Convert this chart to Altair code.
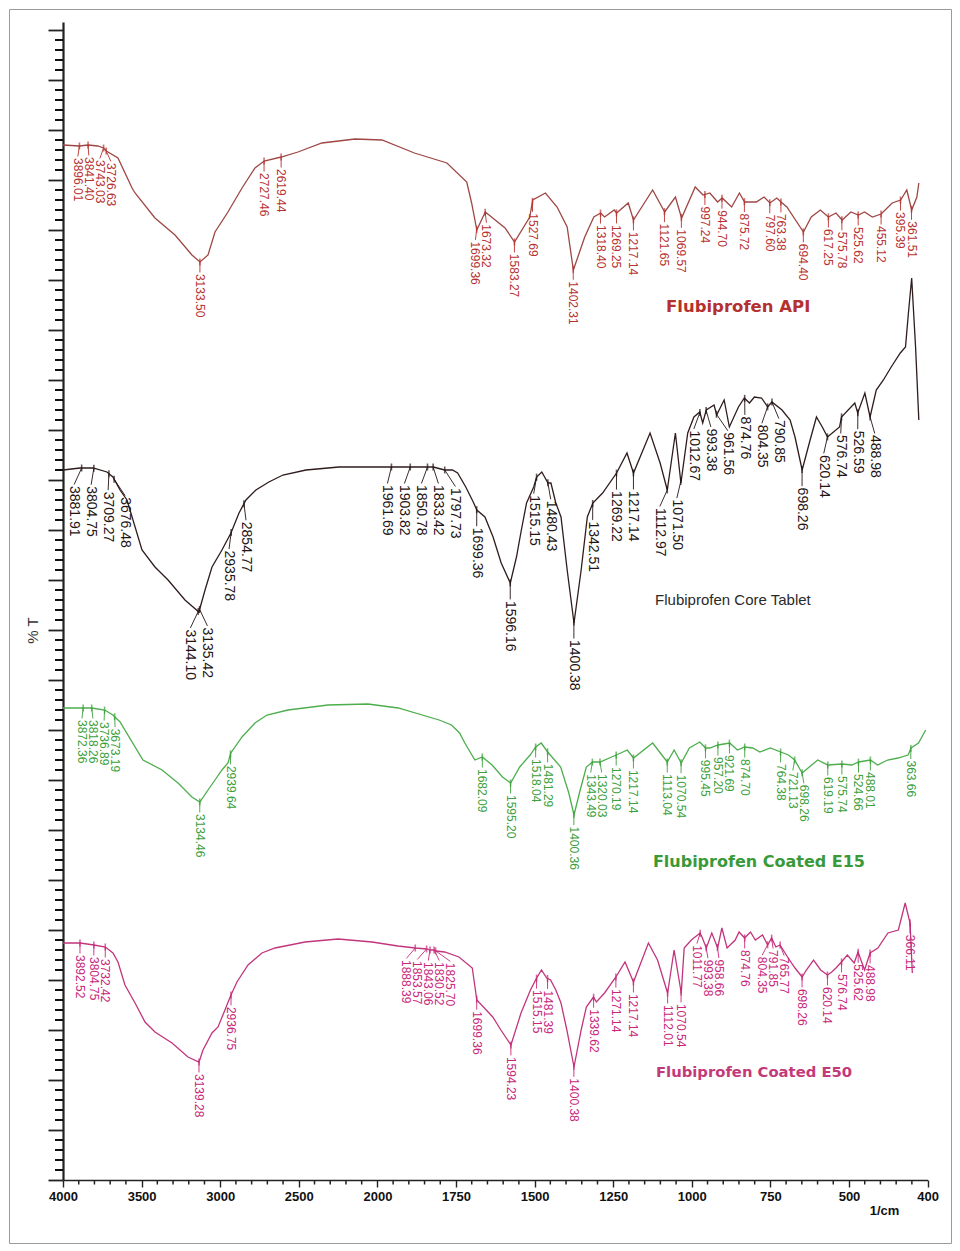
import altair as alt
import pandas as pd
import numpy as np

# ---------------- data ----------------
API_W = [4000, 3896, 3841, 3780, 3743, 3726, 3652, 3563, 3544, 3418, 3291, 3184, 3133, 3082, 3038,
         2956, 2867, 2785, 2727, 2619, 2513, 2361, 2152, 1991, 1891, 1791, 1730, 1715, 1699, 1673,
         1612, 1583, 1536, 1527, 1488, 1452, 1421, 1402, 1367, 1339, 1318, 1306, 1276, 1269, 1233,
         1217, 1158, 1121, 1088, 1069, 1027, 1003, 982, 958, 944, 915, 891, 875, 839, 815, 797, 776,
         763, 745, 694, 670, 642, 617, 594, 575, 548, 525, 506, 482, 455, 421, 395, 376, 361, 345, 339]
API_T = [102.5, 102.4, 102.5, 102.4, 102.2, 101.9, 101.2, 98.2, 97.7, 95.2, 93.5, 91.5, 90.8, 91.5, 93.8,
         95.8, 98.2, 100.2, 100.9, 101.3, 101.8, 102.7, 103.1, 103.0, 101.7, 100.7, 98.8, 96.7, 94.0, 95.8,
         94.2, 92.8, 95.3, 97.0, 97.7, 96.3, 94.3, 90.0, 93.3, 95.3, 95.7, 95.3, 96.0, 95.7, 96.7,
         95.0, 98.0, 95.8, 97.3, 95.2, 98.3, 97.5, 97.7, 96.8, 97.2, 96.3, 97.7, 96.8, 96.8, 97.3, 96.7, 97.2,
         96.8, 96.3, 93.8, 95.3, 96.0, 95.3, 95.7, 95.0, 95.8, 95.5, 95.8, 95.3, 95.6, 96.7, 97.0, 98.0, 96.0, 97.3, 98.7]
API_PEAKS = ["3896.01", "3841.40", "3743.03", "3726.63", "3133.50", "2727.46", "2619.44", "1699.36",
             "1673.32", "1583.27", "1527.69", "1402.31", "1318.40", "1269.25", "1217.14", "1121.65",
             "1069.57", "997.24", "944.70", "875.72", "797.60", "763.38", "694.40", "617.25", "575.78",
             "525.62", "455.12", "395.39", "361.51"]

CORE_W = [4000, 3892, 3810, 3722, 3684, 3639, 3595, 3500, 3418, 3335, 3228, 3140, 3101, 3057, 2994,
          2937, 2886, 2842, 2779, 2697, 2608, 2462, 2253, 2000, 1962, 1904, 1851, 1833, 1798, 1774,
          1758, 1733, 1710, 1699, 1674, 1649, 1624, 1596, 1577, 1562, 1546, 1524, 1515, 1499, 1480,
          1471, 1456, 1440, 1421, 1400, 1378, 1359, 1342, 1312, 1269, 1237, 1217, 1166, 1135, 1113,
          1088, 1071, 1050, 1031, 1013, 1004, 993, 969, 961, 938, 922, 894, 876, 860, 845, 823, 804,
          791, 760, 735, 720, 698, 676, 654, 636, 620, 583, 577, 536, 527, 505, 489, 470, 448, 424,
          396, 380, 371, 361, 349, 339]
CORE_T = [70.0, 70.2, 70.2, 69.8, 69.3, 68.0, 67.0, 62.0, 60.3, 59.0, 57.0, 55.8, 58.0, 60.3, 62.0,
          63.7, 65.7, 67.0, 68.0, 68.8, 69.5, 70.0, 70.3, 70.3, 70.3, 70.3, 70.3, 70.3, 70.0, 70.0,
          69.7, 68.3, 66.8, 66.0, 65.3, 63.3, 60.7, 58.7, 61.3, 64.0, 66.7, 68.3, 69.3, 69.8, 68.7,
          68.7, 66.7, 65.3, 60.0, 54.7, 60.0, 65.3, 66.7, 67.7, 69.7, 71.7, 69.7, 73.7, 70.7, 68.0,
          73.7, 68.7, 73.7, 75.3, 75.8, 74.7, 76.0, 76.5, 75.5, 77.0, 74.3, 76.3, 77.2, 76.7, 77.3, 77.2, 76.3,
          76.8, 76.0, 75.0, 73.3, 70.0, 72.7, 75.3, 74.3, 73.3, 74.3, 75.3, 76.7, 75.7, 77.7, 75.3, 78.0, 79.0, 80.3,
          81.7, 82.3, 85.7, 89.2, 82.3, 75.0]
CORE_PEAKS = ["3881.91", "3804.75", "3709.27", "3676.48", "3144.10", "3135.42", "2935.78", "2854.77",
              "1961.69", "1903.82", "1850.78", "1833.42", "1797.73", "1699.36", "1596.16", "1515.15",
              "1480.43", "1400.38", "1342.51", "1269.22", "1217.14", "1112.97", "1071.50", "1012.67",
              "993.38", "961.56", "874.76", "804.35", "790.85", "698.26", "620.14", "576.74", "526.59",
              "488.98"]

E15_W = [4000, 3873, 3818, 3737, 3684, 3639, 3494, 3373, 3272, 3184, 3134, 3082, 3038, 2994, 2956,
         2938, 2867, 2785, 2709, 2576, 2323, 2070, 1941, 1815, 1777, 1752, 1736, 1705, 1682, 1652,
         1620, 1595, 1567, 1535, 1518, 1501, 1481, 1441, 1416, 1400, 1381, 1362, 1343, 1320, 1270,
         1236, 1217, 1158, 1113, 1092, 1070, 1045, 1013, 995, 982, 957, 921, 897, 875, 850, 828, 796,
         764, 740, 721, 698, 676, 650, 619, 575, 545, 524, 488, 466, 435, 403, 372, 363, 340, 318]
E15_T = [46.2, 46.2, 46.2, 46.0, 45.5, 44.8, 41.0, 40.0, 38.7, 37.3, 36.8, 38.0, 39.0, 40.0, 40.7,
         41.7, 43.3, 44.7, 45.5, 46.0, 46.5, 46.6, 46.2, 45.0, 44.5, 43.7, 42.7, 41.0, 41.3, 40.5,
         39.3, 38.7, 40.3, 41.5, 42.3, 42.7, 41.8, 40.3, 37.7, 35.5, 38.0, 40.3, 40.8, 40.8, 41.5,
         42.0, 41.2, 42.7, 40.8, 42.0, 40.7, 42.2, 42.8, 42.2, 42.2, 42.5, 42.7, 42.0, 42.3, 42.2, 41.8, 42.2,
         41.8, 41.5, 41.0, 39.7, 40.3, 41.0, 40.5, 40.6, 40.5, 40.8, 41.0, 40.5, 41.0, 41.2, 41.5, 42.2, 42.7, 44.0]
E15_PEAKS = ["3872.36", "3818.26", "3736.89", "3673.19", "3134.46", "2939.64", "1682.09", "1595.20",
             "1518.04", "1481.29", "1400.36", "1343.49", "1320.03", "1270.19", "1217.14", "1113.04",
             "1070.54", "995.45", "957.20", "921.69", "874.70", "764.38", "721.13", "698.26", "619.19",
             "575.74", "524.66", "488.01", "363.66"]

E50_W = [4000, 3892, 3804, 3732, 3684, 3652, 3608, 3544, 3481, 3418, 3310, 3209, 3139, 3114, 3057,
         3019, 2975, 2937, 2899, 2829, 2741, 2658, 2468, 2259, 2044, 1942, 1888, 1853, 1843, 1830,
         1825, 1798, 1754, 1713, 1699, 1650, 1625, 1594, 1563, 1534, 1515, 1500, 1484, 1472, 1456,
         1440, 1422, 1400, 1378, 1362, 1340, 1331, 1306, 1271, 1243, 1217, 1171, 1143, 1112, 1092,
         1070, 1061, 1039, 1012, 1005, 993, 976, 958, 945, 929, 904, 892, 875, 857, 842, 820, 804,
         792, 779, 766, 741, 720, 698, 685, 663, 641, 620, 607, 594, 577, 559, 538, 526, 506, 489,
         465, 434, 402, 381, 366, 359]
E50_T = [22.7, 22.7, 22.5, 22.3, 21.7, 20.8, 18.5, 16.7, 14.8, 13.8, 12.7, 11.3, 10.8, 12.0, 13.7,
         14.3, 16.0, 17.5, 18.8, 20.5, 21.7, 22.2, 22.8, 23.1, 22.8, 22.4, 22.2, 22.1, 22.0, 22.0,
         21.9, 21.8, 21.3, 20.2, 17.0, 15.3, 14.0, 12.5, 15.7, 18.0, 19.2, 20.0, 19.2, 19.0, 18.0,
         16.7, 14.0, 10.3, 14.0, 16.3, 17.3, 16.8, 17.7, 19.3, 20.8, 18.8, 22.7, 21.0, 17.7, 22.0,
         17.7, 22.2, 23.0, 23.7, 23.2, 22.2, 23.7, 22.2, 24.2, 22.2, 23.0, 23.8, 23.2, 23.8, 23.0, 23.5, 22.5,
         23.2, 22.3, 22.5, 21.2, 20.2, 19.3, 20.0, 21.0, 20.0, 19.5, 19.8, 20.2, 20.8, 21.5, 20.7, 21.8, 20.0, 21.7,
         22.2, 23.7, 24.0, 26.7, 24.7, 19.7]
E50_PEAKS = ["3892.52", "3804.75", "3732.42", "3139.28", "2936.75", "1888.39", "1853.57", "1843.06",
             "1830.52", "1825.70", "1699.36", "1594.23", "1515.15", "1481.39", "1400.38", "1339.62",
             "1271.14", "1217.14", "1112.01", "1070.54", "1011.77", "993.38", "958.66", "874.76",
             "804.35", "791.85", "765.77", "698.26", "620.14", "576.74", "525.62", "488.98", "366.11"]

AXIS_TICKS = [4000, 3500, 3000, 2500, 2000, 1750, 1500, 1250, 1000, 750, 500, 400]

# ---------------- layout / scales ----------------
FRAME_W, FRAME_H = 942, 1234
S_DOM, S_RNG = [4000, 2000, 400], [54, 370, 890]                 # spectra
A_DOM, A_RNG = [4000, 2000, 500, 400], [54, 368.4, 840, 918.6]   # printed axis
Y_DOM, Y_RNG = [-1, 114.8], [1171, 13]

S_SCALE = alt.Scale(domain=S_DOM, range=S_RNG)
A_SCALE = alt.Scale(domain=A_DOM, range=A_RNG)
Y_SCALE = alt.Scale(domain=Y_DOM, range=Y_RNG)


def s_px(w):
    if w >= 2000:
        return S_RNG[0] + (4000 - w) / 2000 * (S_RNG[1] - S_RNG[0])
    return S_RNG[1] + (2000 - w) / 1600 * (S_RNG[2] - S_RNG[1])


def s_inv(px):
    if px <= S_RNG[1]:
        return 4000 - (px - S_RNG[0]) / (S_RNG[1] - S_RNG[0]) * 2000
    return 2000 - (px - S_RNG[1]) / (S_RNG[2] - S_RNG[1]) * 1600


def spread(px, gap):
    px = np.asarray(px, float)
    order = np.argsort(px)
    p = px[order]
    clusters = [[i] for i in range(len(p))]

    def start(cl):
        return float(np.mean(p[cl])) - (len(cl) - 1) / 2 * gap

    starts = [start(c) for c in clusters]
    changed = True
    while changed:
        changed = False
        for k in range(len(clusters) - 1):
            end_k = starts[k] + (len(clusters[k]) - 1) * gap
            if starts[k + 1] < end_k + gap - 1e-9:
                clusters[k] = clusters[k] + clusters[k + 1]
                del clusters[k + 1]
                del starts[k + 1]
                starts[k] = start(clusters[k])
                changed = True
                break
    out = np.empty(len(p))
    for cl, s in zip(clusters, starts):
        for j, idx in enumerate(cl):
            out[order[idx]] = s + j * gap
    return out


NARROW = "Liberation Sans Narrow, Arial Narrow, Liberation Sans, sans-serif"
SERIES = [
    dict(W=API_W, T=API_T, P=API_PEAKS, line="#9e4744", lab="#b8322f", fs=12, font=NARROW, gap=11,
         drop=1.2, title="Flubiprofen API", tw=895, tt=86.3, tc="#b5302e", ts=16.5, tf="DejaVu Sans", tb="bold"),
    dict(W=CORE_W, T=CORE_T, P=CORE_PEAKS, line="#2f1c1c", lab="#241414", fs=14,
         font="Liberation Sans, Arial, sans-serif", gap=17, drop=1.8, title="Flubiprofen Core Tablet",
         tw=911, tt=57.0, tc="#2a2a2a", ts=15, tf="Liberation Sans", tb="normal"),
    dict(W=E15_W, T=E15_T, P=E15_PEAKS, line="#4cae4c", lab="#3ca03c", fs=12, font=NARROW, gap=11,
         drop=1.2, title="Flubiprofen Coated E15", tw=831, tt=30.8, tc="#3a9a3a", ts=16, tf="DejaVu Sans", tb="bold"),
    dict(W=E50_W, T=E50_T, P=E50_PEAKS, line="#c2357c", lab="#c8287a", fs=12, font=NARROW, gap=11,
         drop=1.2, title="Flubiprofen Coated E50", tw=846, tt=9.7, tc="#c23a7a", ts=14.8, tf="DejaVu Sans", tb="bold"),
]


def XS(field):
    return alt.X(f"{field}:Q", scale=S_SCALE, axis=None)


def YS(field):
    return alt.Y(f"{field}:Q", scale=Y_SCALE, axis=None)


# ---------------- printed axes ----------------
Y_MAJOR = list(range(-1, 115, 5))
Y_MINOR = [v for v in range(-1, 115) if (v + 1) % 5 != 0]
X_MINOR = [v for v in (list(range(4000, 2000, -100)) + list(range(2000, 500, -50)) + list(range(500, 399, -20)))
           if v not in AXIS_TICKS]

# minor ticks: a rule from the axis line outwards, positioned by the axis scales
y_minor_df = pd.DataFrame({"v": Y_MINOR, "a": [4000] * len(Y_MINOR), "b": [4051.0] * len(Y_MINOR)})
x_minor_df = pd.DataFrame({"v": X_MINOR, "a": [-1.0] * len(X_MINOR), "b": [-1.45] * len(X_MINOR)})
A_SCALE_EXT = alt.Scale(domain=A_DOM, range=A_RNG, clamp=False)
Y_SCALE_EXT = alt.Scale(domain=Y_DOM, range=Y_RNG, clamp=False)
y_minor = alt.Chart(y_minor_df).mark_rule(color="#111111", strokeWidth=2).encode(
    x=alt.X("a:Q", scale=A_SCALE_EXT, axis=None), x2="b:Q",
    y=alt.Y("v:Q", scale=Y_SCALE_EXT, axis=None))
x_minor = alt.Chart(x_minor_df).mark_rule(color="#222222", strokeWidth=1.5).encode(
    x=alt.X("v:Q", scale=A_SCALE_EXT, axis=None),
    y=alt.Y("a:Q", scale=Y_SCALE_EXT, axis=None), y2="b:Q")

axis_df = pd.DataFrame({"w": [4000, 400], "t": [0, 0]})
axes_layer = alt.Chart(axis_df).mark_point(opacity=0).encode(
    x=alt.X("w:Q", scale=A_SCALE,
            axis=alt.Axis(values=AXIS_TICKS, orient="bottom", offset=-63, title="1/cm", format="d",
                          titleX=875, titleY=30, titleAlign="center", titleBaseline="middle",
                          titleFont="Liberation Sans", titleFontSize=13, titleFontWeight="bold",
                          titleColor="#111", labelFont="Liberation Sans", labelFontSize=13,
                          labelFontWeight="bold", labelColor="#111", labelPadding=3,
                          tickSize=7, tickWidth=1.4, tickColor="#222", domainColor="#222",
                          domainWidth=1.6, grid=False, labelOverlap=False, labelFlush=False)),
    y=alt.Y("t:Q", scale=Y_SCALE,
            axis=alt.Axis(values=Y_MAJOR, orient="left", offset=-54, labels=False, title="% T",
                          titleX=-31, titleY=621, titleAlign="center", titleBaseline="middle",
                          titleFont="Liberation Sans", titleFontSize=15, titleFontWeight="normal",
                          titleColor="#333", tickSize=15, tickWidth=1.8, tickColor="#222",
                          domainColor="#222", domainWidth=2.2, grid=False)),
)

layers = [y_minor, x_minor]
for s in SERIES:
    W = np.array(s["W"], float)
    T = np.array(s["T"], float)
    spec = pd.DataFrame({"w": W, "t": T})
    wp = np.array([float(v) for v in s["P"]])
    tp = np.interp(wp, W[::-1], T[::-1])
    lpx = spread([s_px(v) for v in wp], s["gap"])
    wl = np.array([s_inv(v) for v in lpx])
    tl = tp - s["drop"]
    lab = pd.DataFrame({"text": s["P"], "wp": wp, "tp": tp, "wl": wl, "tl": tl, "tr": tl + 0.15})

    layers.append(alt.Chart(spec).mark_line(color=s["line"], strokeWidth=1.3, interpolate="linear")
                  .encode(x=XS("w"), y=YS("t"), order=alt.Order("w:Q", sort="descending")))
    layers.append(alt.Chart(lab).mark_rule(color=s["lab"], strokeWidth=0.9)
                  .encode(x=XS("wp"), x2="wl:Q", y=YS("tp"), y2="tr:Q"))
    layers.append(alt.Chart(lab).mark_tick(color=s["lab"], orient="vertical", size=7, thickness=1.6)
                  .encode(x=XS("wp"), y=YS("tp")))
    layers.append(alt.Chart(lab).mark_text(color=s["lab"], angle=90, align="left", baseline="middle",
                                           font=s["font"], fontSize=s["fs"])
                  .encode(x=XS("wl"), y=YS("tl"), text="text:N"))
    ttl = pd.DataFrame({"text": [s["title"]], "w": [s["tw"]], "t": [s["tt"]]})
    layers.append(alt.Chart(ttl).mark_text(color=s["tc"], font=s["tf"], fontSize=s["ts"], fontWeight=s["tb"],
                                           align="center", baseline="middle")
                  .encode(x=XS("w"), y=YS("t"), text="text:N"))

chart = (
    alt.layer(axes_layer, *layers)
    .resolve_scale(x="independent", y="independent")
    .properties(width=FRAME_W, height=FRAME_H, autosize=alt.AutoSizeParams(type="none"),
                padding={"left": 1, "top": 1, "right": 1, "bottom": 1}, background="white")
    .configure_view(stroke="#9a9a9a", strokeWidth=1)
)

chart.save("out.html", embed_options={"renderer": "svg", "actions": False})
